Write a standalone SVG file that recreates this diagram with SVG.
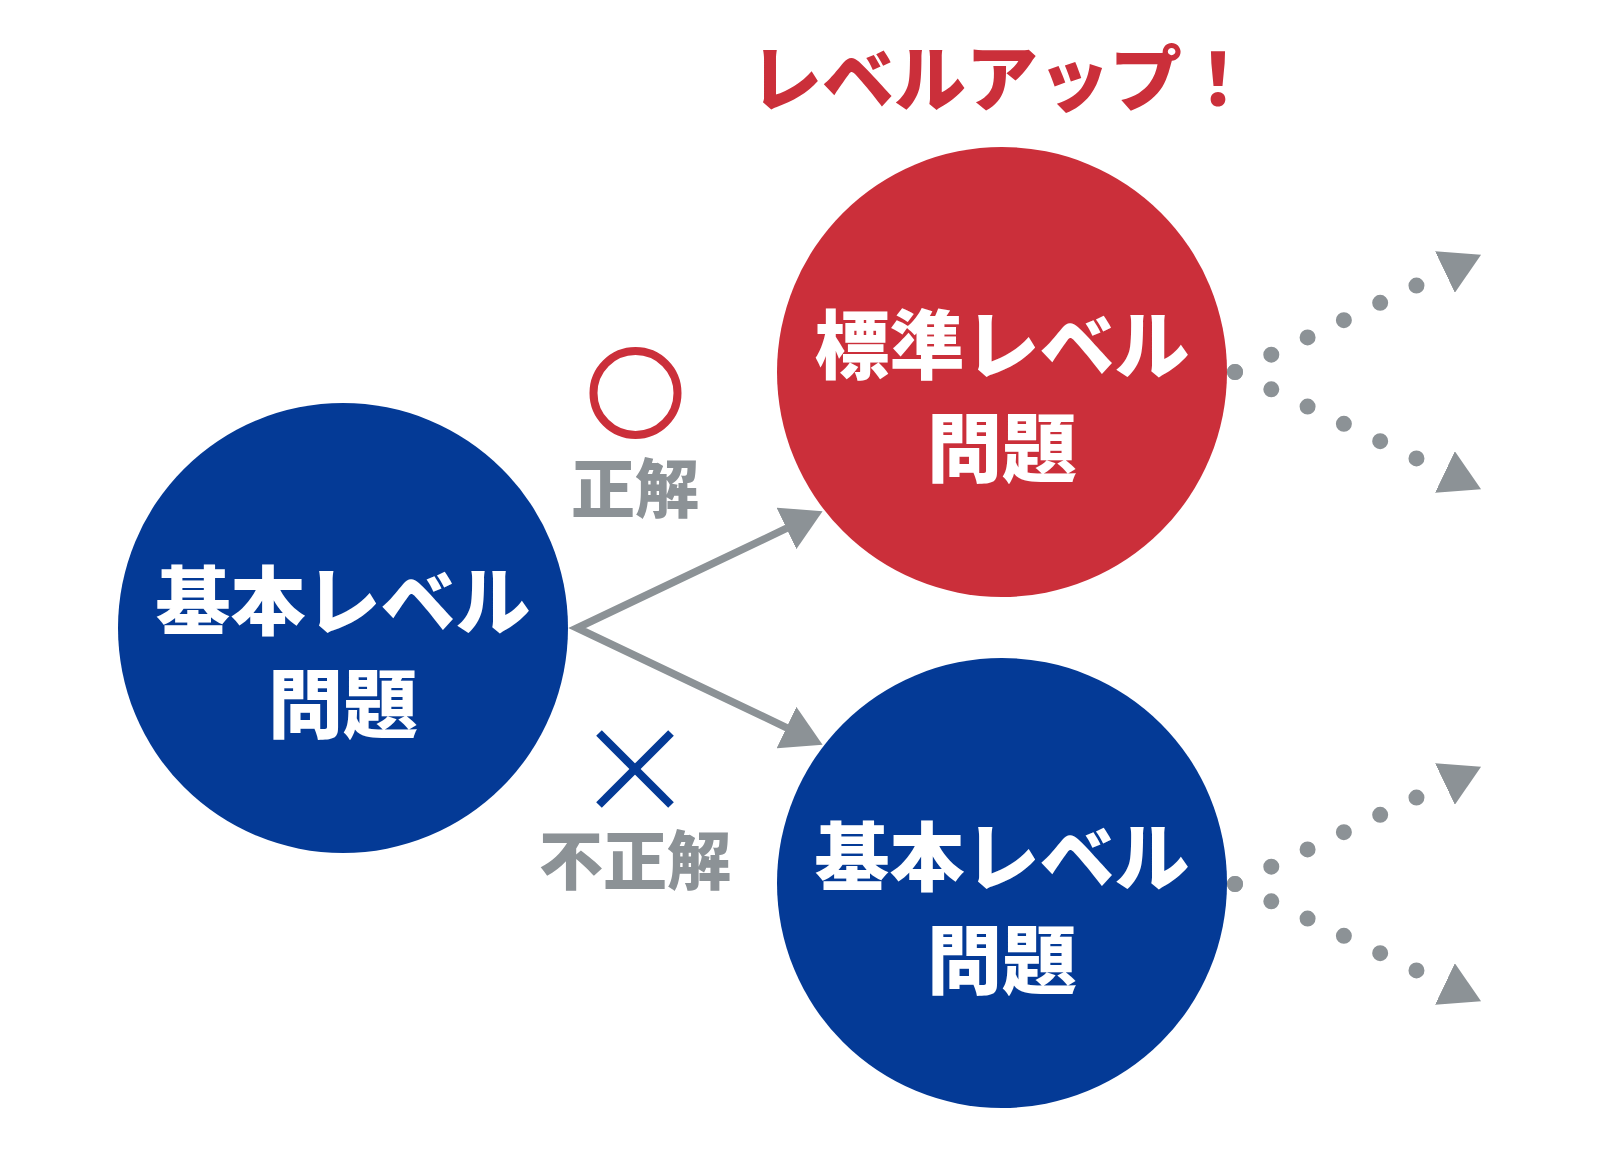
<svg xmlns="http://www.w3.org/2000/svg" width="1600" height="1150" viewBox="0 0 1600 1150">
  <style>
    .node-blue { fill: #043A96; }
    .node-red { fill: #CB2F3A; }
    .ntext { font-family: "Noto Sans CJK JP", "Noto Sans", sans-serif; font-weight: 900; font-size: 75px; fill: #FFFFFF; text-anchor: middle; }
    .label { font-family: "Noto Sans CJK JP", "Noto Sans", sans-serif; font-weight: 900; font-size: 64px; fill: #8C9296; text-anchor: middle; }
    .title { font-family: "Noto Sans CJK JP", "Noto Sans", sans-serif; font-weight: 900; font-size: 72px; fill: #CB2F3A; text-anchor: middle; }
    .arrow { fill: none; stroke: #8C9296; stroke-width: 7.5; stroke-linejoin: miter; marker-start: url(#head); marker-end: url(#head); }
    .dots { fill: none; stroke: #8C9296; stroke-width: 16; stroke-linecap: round; stroke-dasharray: 0 40.2; marker-end: url(#head); }
  </style>
  <defs>
    <marker id="head" markerUnits="userSpaceOnUse" viewBox="0 0 40 46" markerWidth="40" markerHeight="46" refX="0.5" refY="23" orient="auto-start-reverse">
      <path d="M0,0 L40,23 L0,46 Z" fill="#8C9296"/>
    </marker>
  </defs>
  <rect width="1600" height="1150" fill="#FFFFFF"/>

  <text id="title" class="title" x="1002" y="105">レベルアップ！</text>

  <g id="connectors">
    <path class="arrow" d="M786.9,528.2 L577,628 L786.9,727.8"/>
    <path class="dots" d="M1235,372 L1445.4,271.8"/>
    <path class="dots" d="M1235,372 L1445.4,472.2"/>
    <path class="dots" d="M1235,884 L1445.4,783.8"/>
    <path class="dots" d="M1235,884 L1445.4,984.2"/>
  </g>

  <g id="node-basic-start">
    <circle class="node-blue" cx="343" cy="628" r="225"/>
    <text class="ntext" x="343" y="629">基本レベル</text>
    <text class="ntext" x="343" y="732">問題</text>
  </g>

  <g id="node-standard">
    <circle class="node-red" cx="1002" cy="372" r="225"/>
    <text class="ntext" x="1002" y="373">標準レベル</text>
    <text class="ntext" x="1002" y="476">問題</text>
  </g>

  <g id="node-basic-again">
    <circle class="node-blue" cx="1002" cy="883" r="225"/>
    <text class="ntext" x="1002" y="885">基本レベル</text>
    <text class="ntext" x="1002" y="988">問題</text>
  </g>

  <g id="label-correct">
    <circle cx="635.5" cy="393" r="42" fill="none" stroke="#CB2F3A" stroke-width="8"/>
    <text class="label" x="635" y="512">正解</text>
  </g>

  <g id="label-incorrect">
    <line x1="599" y1="733" x2="671" y2="805" stroke="#043A96" stroke-width="8"/>
    <line x1="671" y1="733" x2="599" y2="805" stroke="#043A96" stroke-width="8"/>
    <text class="label" x="635" y="884">不正解</text>
  </g>
</svg>
